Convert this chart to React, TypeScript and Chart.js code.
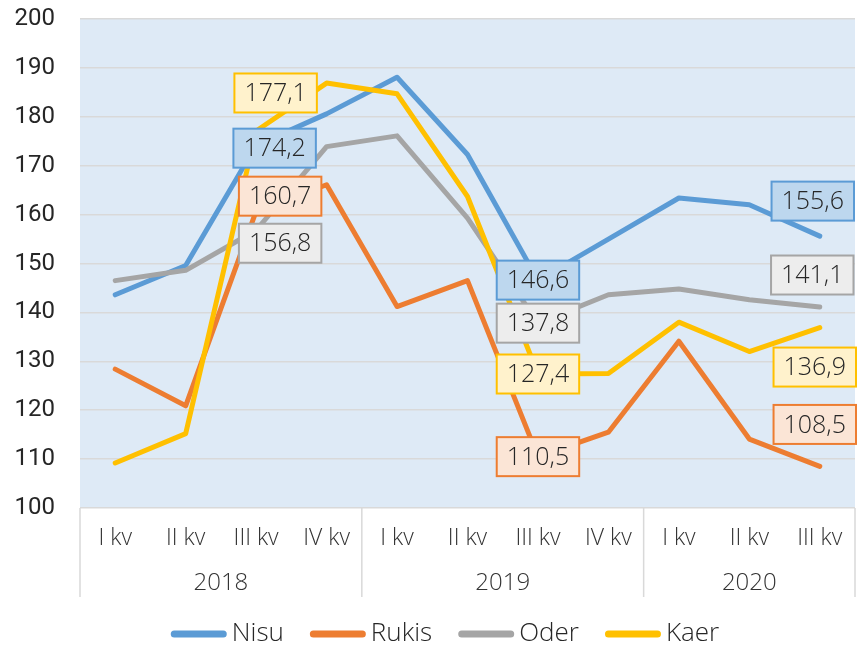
import React, { useEffect, useRef } from 'react';
import { Chart, registerables } from 'chart.js';

Chart.register(...registerables);

const categories = ['I kv', 'II kv', 'III kv', 'IV kv', 'I kv', 'II kv', 'III kv', 'IV kv', 'I kv', 'II kv', 'III kv'];
const years = ['2018', '2019', '2020'];
const yearSpans = [4, 4, 3];

const seriesNames = ['Nisu', 'Rukis', 'Oder', 'Kaer'];
const nisu = [143.6, 149.6, 174.2, 180.6, 188.1, 172.3, 146.6, 155.0, 163.4, 162.0, 155.6];
const rukis = [128.4, 120.9, 160.7, 166.1, 141.2, 146.5, 110.5, 115.5, 134.1, 114.1, 108.5];
const oder = [146.5, 148.6, 156.8, 173.9, 176.1, 159.3, 137.8, 143.6, 144.8, 142.6, 141.1];
const kaer = [109.2, 115.2, 177.1, 186.9, 184.7, 163.7, 127.4, 127.5, 138.0, 132.0, 136.9];

const yMin = 100;
const yMax = 200;
const yStep = 10;

const labelIndices = [2, 6, 10];

// styles
const lineColors = ['#5B9BD5', '#ED7D31', '#A5A5A5', '#FFC000'];
const boxFills = ['#BDD7EE', '#FBE5D6', '#EDEDED', '#FFF2CC'];
const labelOffsets = [
  [[18.5, 3], [0, 0], [-7, -35]],
  [[24, -15], [0, 0], [-3, -42]],
  [[24, 13], [0, 0], [-7.5, -32]],
  [[19.5, -38], [0, 0], [-5, 39.5]],
];

const W = 857;
const H = 649;
const LIGHT_FONT = '"Open Sans", "Lato", sans-serif';
const TEXT = '#262626';

const fmt = (v: number) => v.toFixed(1).replace('.', ',');

const bgPlugin = {
  id: 'bg',
  beforeDraw(chart: any) {
    const { ctx, chartArea } = chart;
    ctx.save();
    ctx.fillStyle = '#DEEAF6';
    ctx.fillRect(chartArea.left, chartArea.top, chartArea.right - chartArea.left, chartArea.bottom - chartArea.top);
    ctx.restore();
  },
};

const axisPlugin = {
  id: 'axisCats',
  afterDraw(chart: any) {
    const { ctx, chartArea } = chart;
    const xs = chart.scales.x;
    const n = categories.length;
    const cw = (chartArea.right - chartArea.left) / n;
    ctx.save();
    ctx.strokeStyle = '#D9D9D9';
    ctx.lineWidth = 1.5;
    let k = 0;
    const bounds = [0];
    yearSpans.forEach((s) => { k += s; bounds.push(k); });
    bounds.forEach((b) => {
      const x = chartArea.left + b * cw;
      ctx.beginPath();
      ctx.moveTo(x, chartArea.bottom);
      ctx.lineTo(x, 597);
      ctx.stroke();
    });
    ctx.fillStyle = '#333333';
    ctx.font = `300 23px ${LIGHT_FONT}`;
    ctx.textAlign = 'center';
    ctx.textBaseline = 'middle';
    categories.forEach((c, i) => {
      ctx.fillText(c, xs.getPixelForValue(i), 538);
    });
    ctx.font = `300 24px ${LIGHT_FONT}`;
    years.forEach((y, j) => {
      const x0 = chartArea.left + bounds[j] * cw;
      const x1 = chartArea.left + bounds[j + 1] * cw;
      ctx.fillText(y, (x0 + x1) / 2, 583);
    });
    ctx.restore();
  },
};

const dataLabelPlugin = {
  id: 'dataLabels',
  afterDatasetsDraw(chart: any) {
    const { ctx } = chart;
    ctx.save();
    ctx.font = `300 25px ${LIGHT_FONT}`;
    ctx.textAlign = 'center';
    ctx.textBaseline = 'middle';
    chart.data.datasets.forEach((ds: any, di: number) => {
      const meta = chart.getDatasetMeta(di);
      labelIndices.forEach((idx, li) => {
        const pt = meta.data[idx];
        const txt = fmt(ds.data[idx]);
        const tw = ctx.measureText(txt).width;
        const bw = tw + 20;
        const bh = 39;
        let cx = pt.x + labelOffsets[di][li][0];
        const cy = pt.y + labelOffsets[di][li][1];
        if (cx + bw / 2 > W - 1) cx = W - 1 - bw / 2;
        ctx.fillStyle = boxFills[di];
        ctx.fillRect(cx - bw / 2, cy - bh / 2, bw, bh);
        ctx.strokeStyle = lineColors[di];
        ctx.lineWidth = 2;
        ctx.strokeRect(cx - bw / 2, cy - bh / 2, bw, bh);
        ctx.fillStyle = TEXT;
        ctx.fillText(txt, cx, cy + 1);
      });
    });
    ctx.restore();
  },
};

const legendPlugin = {
  id: 'customLegend',
  afterDraw(chart: any) {
    const { ctx } = chart;
    ctx.save();
    ctx.font = `300 26px ${LIGHT_FONT}`;
    const lineW = 56;
    const gap = 5;
    const itemGap = 26;
    const items = chart.data.datasets.map((d: any) => ({ label: d.label, color: d.borderColor, tw: ctx.measureText(d.label).width }));
    const total = items.reduce((s: number, it: any) => s + lineW + gap + it.tw, 0) + itemGap * (items.length - 1);
    let x = 445 - total / 2;
    const y = 634;
    items.forEach((it: any) => {
      ctx.strokeStyle = it.color;
      ctx.lineWidth = 7;
      ctx.lineCap = 'round';
      ctx.beginPath();
      ctx.moveTo(x + 3.5, y);
      ctx.lineTo(x + lineW - 3.5, y);
      ctx.stroke();
      ctx.fillStyle = TEXT;
      ctx.textAlign = 'left';
      ctx.textBaseline = 'middle';
      ctx.fillText(it.label, x + lineW + gap, y);
      x += lineW + gap + it.tw + itemGap;
    });
    ctx.restore();
  },
};

export default function App() {
  const ref = useRef<HTMLCanvasElement | null>(null);
  useEffect(() => {
    if (!ref.current) return;
    const series = [nisu, rukis, oder, kaer];
    const chart = new Chart(ref.current, {
      type: 'line',
      data: {
        labels: categories,
        datasets: series.map((d, i) => ({
          label: seriesNames[i],
          data: d,
          borderColor: lineColors[i],
          backgroundColor: lineColors[i],
          borderWidth: 5,
          pointRadius: 0,
          tension: 0,
          borderCapStyle: 'round',
          borderJoinStyle: 'round',
          order: 3 - i,
        })),
      },
      options: {
        responsive: false,
        animation: false,
        layout: { padding: { top: 19, right: 2, left: 0, bottom: 0 } },
        plugins: { legend: { display: false }, tooltip: { enabled: false } },
        scales: {
          x: {
            type: 'category',
            offset: true,
            grid: { display: false },
            border: { display: false },
            ticks: { display: false },
            afterFit: (s: any) => { s.height = 141; s.paddingLeft = 0; s.paddingRight = 0; },
          },
          y: {
            min: yMin,
            max: yMax,
            grid: { color: '#D9D9D9', lineWidth: 1.5, drawTicks: false },
            border: { display: false },
            ticks: {
              stepSize: yStep,
              padding: 25,
              color: TEXT,
              font: { family: 'Roboto, sans-serif', size: 24 },
            },
            afterFit: (s: any) => { s.width = 80; s.paddingTop = 0; s.paddingBottom = 0; },
          },
        },
      },
      plugins: [bgPlugin, axisPlugin, dataLabelPlugin, legendPlugin],
    } as any);
    return () => chart.destroy();
  }, []);
  return (
    <div style={{ position: 'absolute', left: 0, top: 0, width: W, height: H, background: '#fff' }}>
      <canvas ref={ref} width={W} height={H} style={{ display: 'block' }} />
    </div>
  );
}
